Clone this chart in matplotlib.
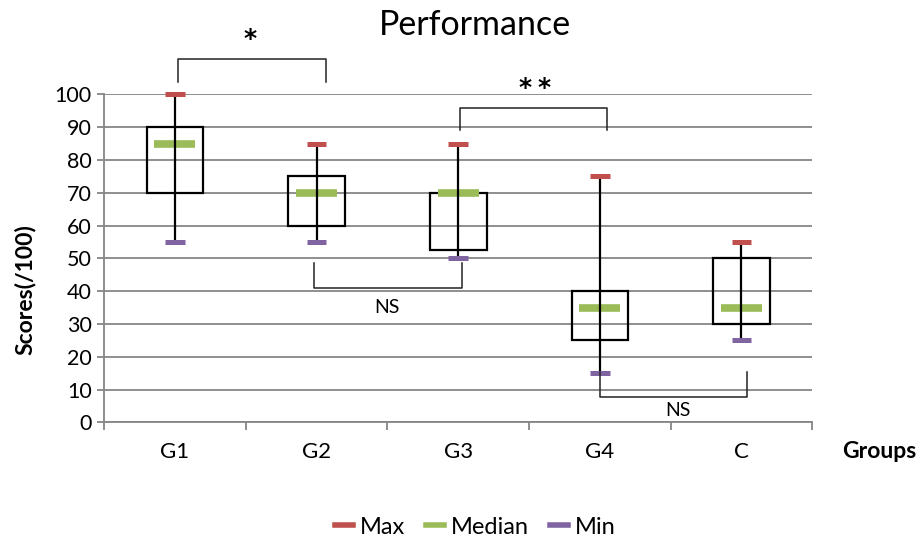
import matplotlib.pyplot as plt
from matplotlib.lines import Line2D

# datos de la figura
grupos = ["G1", "G2", "G3", "G4", "C"]
maximos = [100, 85, 85, 75, 55]
cuartil3 = [90, 75, 70, 40, 50]
medianas = [85, 70, 70, 35, 35]
cuartil1 = [70, 60, 52.5, 25, 30]
minimos = [55, 55, 50, 15, 25]

# corchetes de significancia: (x izq, x der, y patas, y barra)
corchetes = [
    (0.02, 1.07, 103.8, 110.8),
    (2.01, 3.05, 89.0, 95.8),
    (0.98, 2.03, 48.6, 40.9),
    (3.0, 4.04, 15.2, 7.7),
]
# asteriscos (x, y de la linea base)
asteriscos = [(0.531, 114.6), (2.47, 99.8), (2.607, 99.8)]
# etiquetas NS (x, y)
etiquetas_ns = [(1.5, 35.0), (3.55, 3.6)]

rojo = "#C0504D"
verde = "#9BBB59"
morado = "#8064A2"
gris = "#868686"

plt.rcParams["font.family"] = ["Lato", "DejaVu Sans"]

fig = plt.figure(figsize=(9.21, 5.39), dpi=100)
ax = fig.add_axes([0.113, 0.2165, 0.769, 0.6085])

pos = list(range(len(grupos)))

# cajas
ax.bar(pos, [a - b for a, b in zip(cuartil3, cuartil1)], bottom=cuartil1, width=0.4,
       facecolor="none", edgecolor="black", linewidth=1.6, zorder=3)
# bigotes
ax.vlines(pos, minimos, maximos, color="black", linewidth=1.6, zorder=5, clip_on=False)
# marcas
ax.hlines(medianas, [p - 0.145 for p in pos], [p + 0.145 for p in pos], color=verde, linewidth=5.5, zorder=4)
ax.hlines(maximos, [p - 0.07 for p in pos], [p + 0.07 for p in pos], color=rojo, linewidth=3.6, zorder=6,
          clip_on=False)
ax.hlines(minimos, [p - 0.07 for p in pos], [p + 0.07 for p in pos], color=morado, linewidth=3.6, zorder=6,
          clip_on=False)

for x0, x1, yp, yb in corchetes:
    ax.plot([x0, x0, x1, x1], [yp, yb, yb, yp], color="#222222", linewidth=1.1, clip_on=False, zorder=7)
for xt, yt in asteriscos:
    ax.text(xt, yt, "*", ha="center", va="baseline", fontsize=18, fontweight="bold", family="DejaVu Sans")
for xt, yt in etiquetas_ns:
    ax.text(xt, yt, "NS", ha="center", va="center", fontsize=14)

ax.set_xlim(-0.5, 4.5)
ax.set_ylim(0, 100)
ax.set_yticks(range(0, 101, 10))
ax.yaxis.grid(True, color=gris, linewidth=1.3)
ax.set_axisbelow(True)

ax.set_xticks([p - 0.5 for p in pos] + [4.5])
ax.set_xticklabels([])
ax.set_xticks(pos, minor=True)
ax.set_xticklabels(grupos, minor=True)
ax.tick_params(axis="x", which="major", direction="out", length=6, color=gris, width=1.3)
ax.tick_params(axis="x", which="minor", length=0, pad=14, labelsize=16)
ax.tick_params(axis="y", direction="out", length=5, color=gris, width=1.3, labelsize=15.5, pad=4)

for lado in ["top", "right"]:
    ax.spines[lado].set_visible(False)
for lado in ["left", "bottom"]:
    ax.spines[lado].set_color(gris)
    ax.spines[lado].set_linewidth(1.3)

fig.text(0.027, 0.462, "Scores(/100)", fontsize=16.5, fontweight="bold", rotation=90,
         ha="center", va="center")
fig.text(0.914, 0.162, "Groups", fontsize=16.5, fontweight="bold", va="center", ha="left")
fig.text(0.516, 0.954, "Performance", fontsize=24.5, ha="center", va="center")

manijas = [Line2D([0], [0], color=c, linewidth=4) for c in [rojo, verde, morado]]
fig.legend(manijas, ["Max", "Median", "Min"], loc="center", bbox_to_anchor=(0.516, 0.022),
           ncol=3, frameon=False, fontsize=17, handlelength=0.75, handletextpad=0.3,
           columnspacing=0.9, borderaxespad=0, borderpad=0)

fig.savefig("out.png", dpi=100)
